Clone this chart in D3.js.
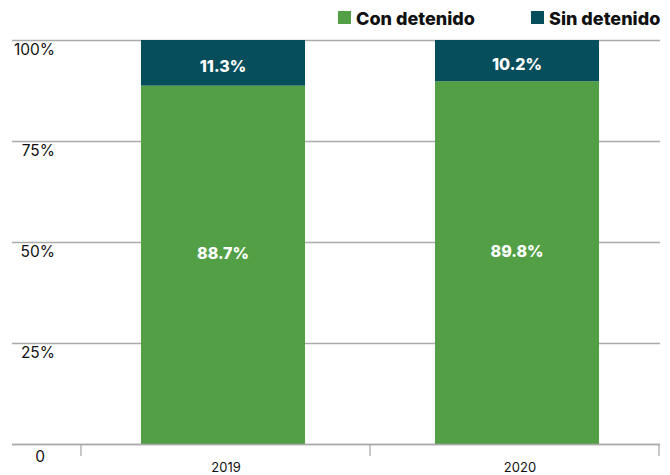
<!DOCTYPE html>
<html>
<head>
<meta charset="utf-8">
<script src="https://cdn.jsdelivr.net/npm/d3@7"></script>
<style>
  body { margin: 0; background: #fff; }
  svg { display: block; font-family: Inter, "Noto Sans", sans-serif; }
</style>
</head>
<body>
<div id="canvas"></div>
<script>
var years = ["2019", "2020"];
var conDetenido = [88.7, 89.8];
var sinDetenido = [11.3, 10.2];
var seriesNames = ["Con detenido", "Sin detenido"];
var yTicks = [0, 25, 50, 75, 100];
var yTickLabels = ["0", "25%", "50%", "75%", "100%"];

var width = 670, height = 475;
var colors = { "Con detenido": "#529f45", "Sin detenido": "#064e5b" };
// label nudges per series, the original isn't exactly centred
var labelShift = { "Con detenido": -12, "Sin detenido": 3 };

var svg = d3.select("#canvas").append("svg")
  .attr("width", width)
  .attr("height", height);

var rows = years.map(function(y, i){
  return { year: y, "Con detenido": conDetenido[i], "Sin detenido": sinDetenido[i] };
});
var stacked = d3.stack().keys(seriesNames)(rows);

// axis bands (tick marks) and bar bands
var xAxisScale = d3.scaleBand().domain(years).range([81, 659]);
var x = d3.scaleBand().domain(years).range([76, 664]).paddingInner(0.442).paddingOuter(0.221);
var y = d3.scaleLinear().domain([0, 100]).range([444, 40]);

// gridlines
svg.append("g").selectAll("line").data(yTicks).join("line")
  .attr("x1", 12).attr("x2", 660)
  .attr("y1", function(d){ return y(d) + 0.5; })
  .attr("y2", function(d){ return y(d) + 0.5; })
  .attr("stroke", "#aaaaaa").attr("stroke-width", 1.3);

// y labels, sitting under each gridline
svg.append("g").selectAll("text").data(yTicks).join("text")
  .attr("x", function(d){ return d === 0 ? 45 : 55; })
  .attr("y", function(d){ return y(d) + (d === 0 ? 18 : 15); })
  .attr("text-anchor", "end")
  .attr("font-size", 15.5)
  .attr("fill", "#111")
  .text(function(d, i){ return yTickLabels[i]; });

// bars
var layers = svg.append("g").selectAll("g").data(stacked).join("g")
  .attr("fill", function(d){ return colors[d.key]; });

layers.selectAll("rect").data(function(d){ return d; }).join("rect")
  .attr("x", function(d){ return x(d.data.year); })
  .attr("width", x.bandwidth())
  .attr("y", function(d){ return y(d[1]); })
  .attr("height", function(d){ return y(d[0]) - y(d[1]); });

// value labels
layers.selectAll("text").data(function(d){ return d.map(function(p){ return { p: p, key: d.key }; }); })
  .join("text")
  .attr("x", function(d){ return x(d.p.data.year) + x.bandwidth()/2; })
  .attr("y", function(d){ return (y(d.p[0]) + y(d.p[1]))/2 + 6 + labelShift[d.key]; })
  .attr("text-anchor", "middle")
  .attr("fill", "#fff")
  .attr("font-weight", 800)
  .attr("font-size", 16)
  .text(function(d){ return d.p.data[d.key].toFixed(1) + "%"; });

// bottom axis
var xAxis = svg.append("g").attr("transform", "translate(0,444)");
xAxis.append("line").attr("x1", 12).attr("x2", 660).attr("y1", 0.5).attr("y2", 0.5)
  .attr("stroke", "#aaaaaa").attr("stroke-width", 1.3);
var tickXs = years.map(function(d){ return xAxisScale(d); }).concat([xAxisScale.range()[1]]);
xAxis.selectAll("line.tick").data(tickXs).join("line")
  .attr("class", "tick")
  .attr("x1", function(d){ return d; }).attr("x2", function(d){ return d; })
  .attr("y1", 0).attr("y2", 12)
  .attr("stroke", "#aaaaaa").attr("stroke-width", 1.3);
xAxis.selectAll("text").data(years).join("text")
  .attr("x", function(d){ return x(d) + x.bandwidth()/2 + 3; })
  .attr("y", 28)
  .attr("text-anchor", "middle")
  .attr("font-size", 13)
  .attr("fill", "#111")
  .text(function(d){ return d; });

// legend
var legendX = [338, 531];
var legend = svg.append("g").selectAll("g").data(seriesNames).join("g")
  .attr("transform", function(d, i){ return "translate(" + legendX[i] + ",11)"; });
legend.append("rect").attr("width", 13).attr("height", 13)
  .attr("fill", function(d){ return colors[d]; });
legend.append("text").attr("x", 18).attr("y", 13.5)
  .attr("font-size", 18).attr("font-weight", 800).attr("fill", "#111")
  .text(function(d){ return d; });
</script>
</body>
</html>
